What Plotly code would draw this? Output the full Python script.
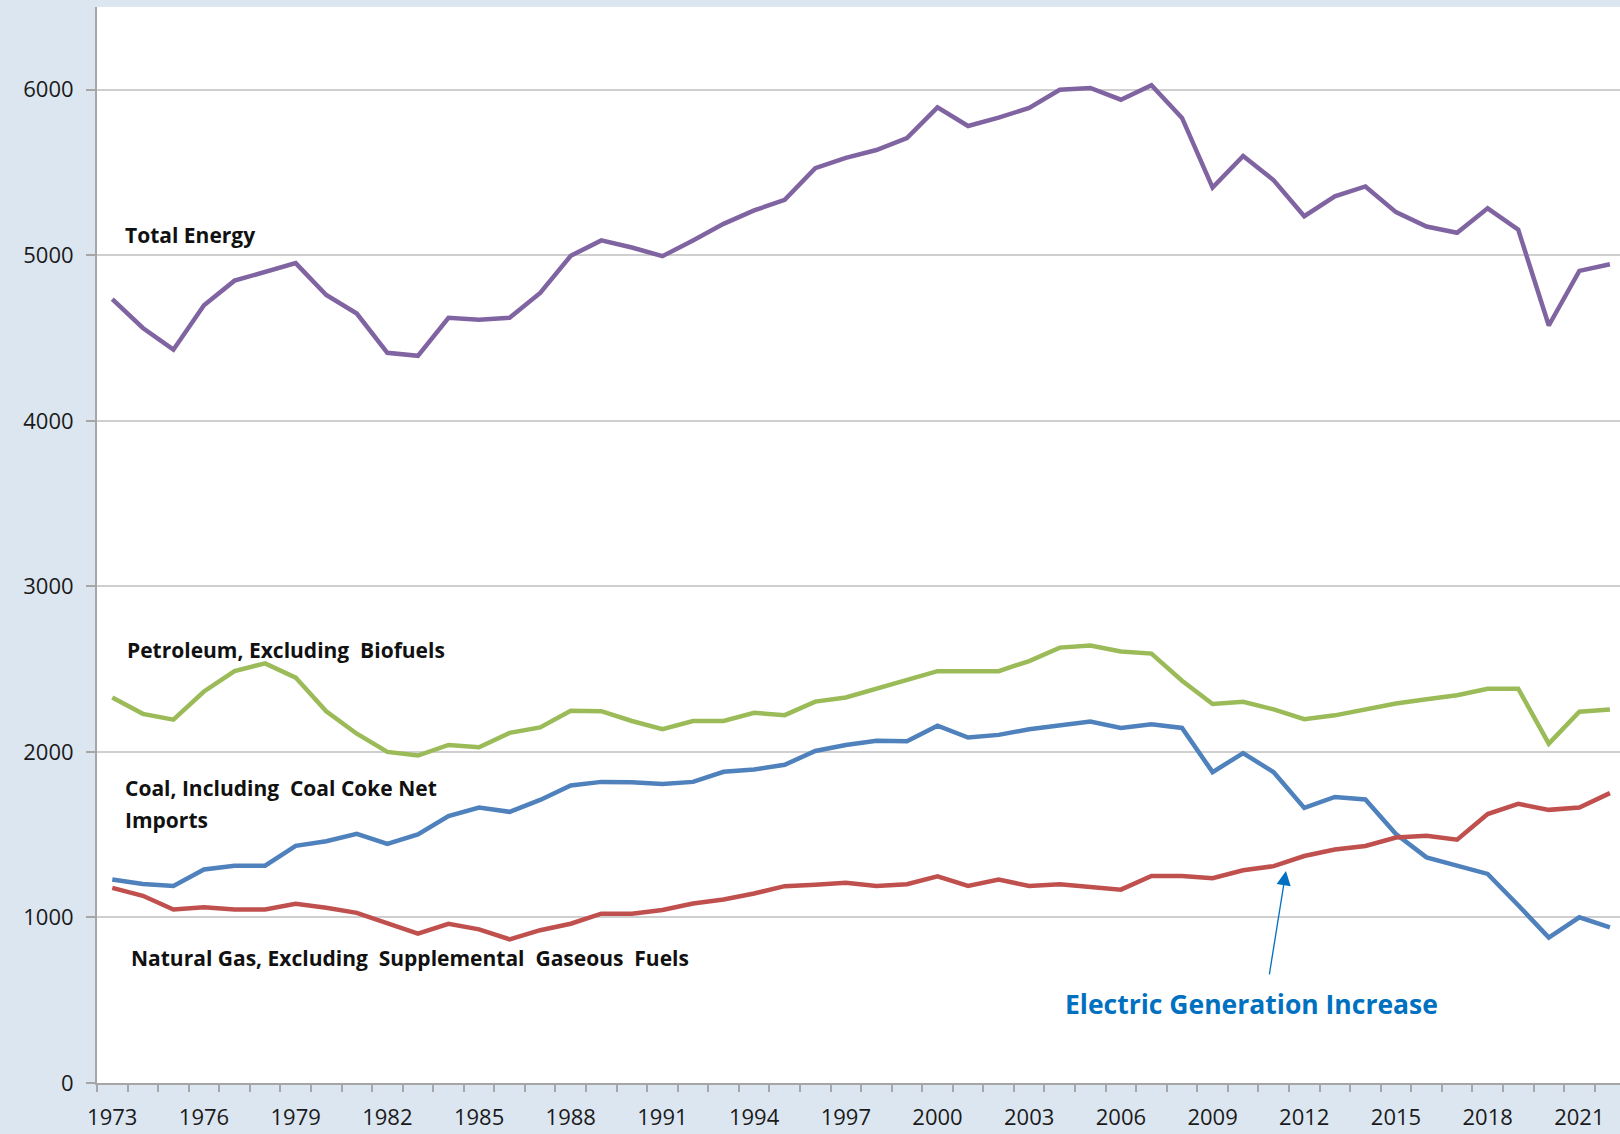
import plotly.graph_objects as go

years = list(range(1973, 2023))

total_energy = [
    4735, 4561, 4430, 4698, 4847, 4897, 4953, 4760, 4648, 4411,
    4393, 4623, 4611, 4623, 4773, 4997, 5090, 5047, 4995, 5090,
    5190, 5271, 5335, 5526, 5589, 5636, 5708, 5894, 5781, 5832,
    5890, 6000, 6011, 5940, 6027, 5830, 5409, 5600, 5453, 5236,
    5356, 5416, 5261, 5174, 5136, 5284, 5155, 4576, 4906, 4946,
]

petroleum = [
    2329, 2230, 2195, 2365, 2488, 2535, 2449, 2245, 2110, 2000,
    1978, 2042, 2028, 2115, 2148, 2248, 2246, 2187, 2137, 2187,
    2187, 2236, 2222, 2304, 2329, 2380, 2438, 2488, 2488, 2488,
    2549, 2630, 2643, 2607, 2594, 2430, 2290, 2303, 2257, 2198,
    2221, 2256, 2293, 2318, 2342, 2382, 2382, 2050, 2243, 2256,
]

coal = [
    1229, 1202, 1190, 1290, 1313, 1313, 1433, 1460, 1505, 1444,
    1502, 1613, 1664, 1638, 1710, 1797, 1819, 1817, 1806, 1819,
    1880, 1894, 1922, 2006, 2042, 2067, 2064, 2158, 2087, 2103,
    2137, 2158, 2184, 2145, 2167, 2145, 1878, 1993, 1877, 1662,
    1728, 1713, 1504, 1363, 1316, 1263, 1074, 878, 1001, 940,
]

natural_gas = [
    1179, 1131, 1048, 1062, 1048, 1048, 1082, 1059, 1028, 962,
    903, 962, 928, 868, 923, 962, 1023, 1023, 1045, 1084,
    1108, 1145, 1189, 1198, 1209, 1190, 1201, 1248, 1190, 1229,
    1190, 1201, 1182, 1168, 1251, 1251, 1237, 1285, 1310, 1371,
    1410, 1432, 1483, 1494, 1470, 1625, 1686, 1650, 1664, 1751,
]

tick_years = list(range(1973, 2022, 3))

series = [
    ("Total Energy", total_energy, "#8064A2"),
    ("Petroleum, Excluding Biofuels", petroleum, "#9BBB59"),
    ("Coal, Including Coal Coke Net Imports", coal, "#4F81BD"),
    ("Natural Gas, Excluding Supplemental Gaseous Fuels", natural_gas, "#C0504D"),
]

fig = go.Figure()
for name, vals, color in series:
    fig.add_trace(go.Scatter(
        x=years, y=vals, name=name, mode="lines",
        line=dict(color=color, width=4.5),
    ))

label_font = dict(family="Open Sans", size=21, color="#111111")
labels = [
    ("<b>Total Energy</b>", 1973.36, 5124),
    ("<b>Petroleum, Excluding  Biofuels</b>", 1973.42, 2616),
    ("<b>Coal, Including  Coal Coke Net</b>", 1973.36, 1782),
    ("<b>Imports</b>", 1973.36, 1589),
    ("<b>Natural Gas, Excluding  Supplemental  Gaseous  Fuels</b>", 1973.55, 755),
]
for text, x, y in labels:
    fig.add_annotation(x=x, y=y, text=text, showarrow=False,
                       xanchor="left", yanchor="middle", font=label_font)

# electric generation callout
fig.add_annotation(x=2004.1, y=477, text="<b>Electric Generation Increase</b>",
                   showarrow=False, xanchor="left", yanchor="middle",
                   font=dict(family="Open Sans", size=26.5, color="#0070C0"))
fig.add_annotation(x=2011.4, y=1281, ax=2010.85, ay=647, axref="x", ayref="y",
                   text="", showarrow=True, arrowhead=2, arrowsize=2.2,
                   arrowwidth=1.3, arrowcolor="#0070C0", standoff=0)

fig.update_xaxes(
    range=[1972.5, 2022.33],
    tickmode="array", tickvals=tick_years, ticktext=[str(y) for y in tick_years],
    ticks="", showgrid=False, zeroline=False,
    showline=True, linecolor="#a6a6a6", linewidth=2,
    tickfont=dict(family="Open Sans", size=22, color="#1a1a1a"),
    ticklabelstandoff=14,
    minor=dict(tickvals=[y - 0.5 for y in years] + [2022.5], ticks="outside",
               ticklen=7, tickcolor="#a6a6a6", tickwidth=1.5, showgrid=False),
)
fig.update_yaxes(
    range=[0, 6500], tickmode="array", tickvals=list(range(0, 7000, 1000)),
    ticks="outside", ticklen=9, tickcolor="#a6a6a6", tickwidth=1.5,
    showgrid=True, gridcolor="#cfcfcf", gridwidth=1.5, zeroline=False,
    showline=True, linecolor="#a6a6a6", linewidth=2,
    tickfont=dict(family="Open Sans", size=22, color="#1a1a1a"),
    ticklabelstandoff=8,
)
fig.update_layout(
    width=1620, height=1134,
    margin=dict(l=97, r=0, t=7, b=51),
    paper_bgcolor="#dce6f1", plot_bgcolor="#ffffff",
    showlegend=False,
)

fig.write_html("out.html", config={"displayModeBar": False},
               post_script="document.body.style.margin='0';")
